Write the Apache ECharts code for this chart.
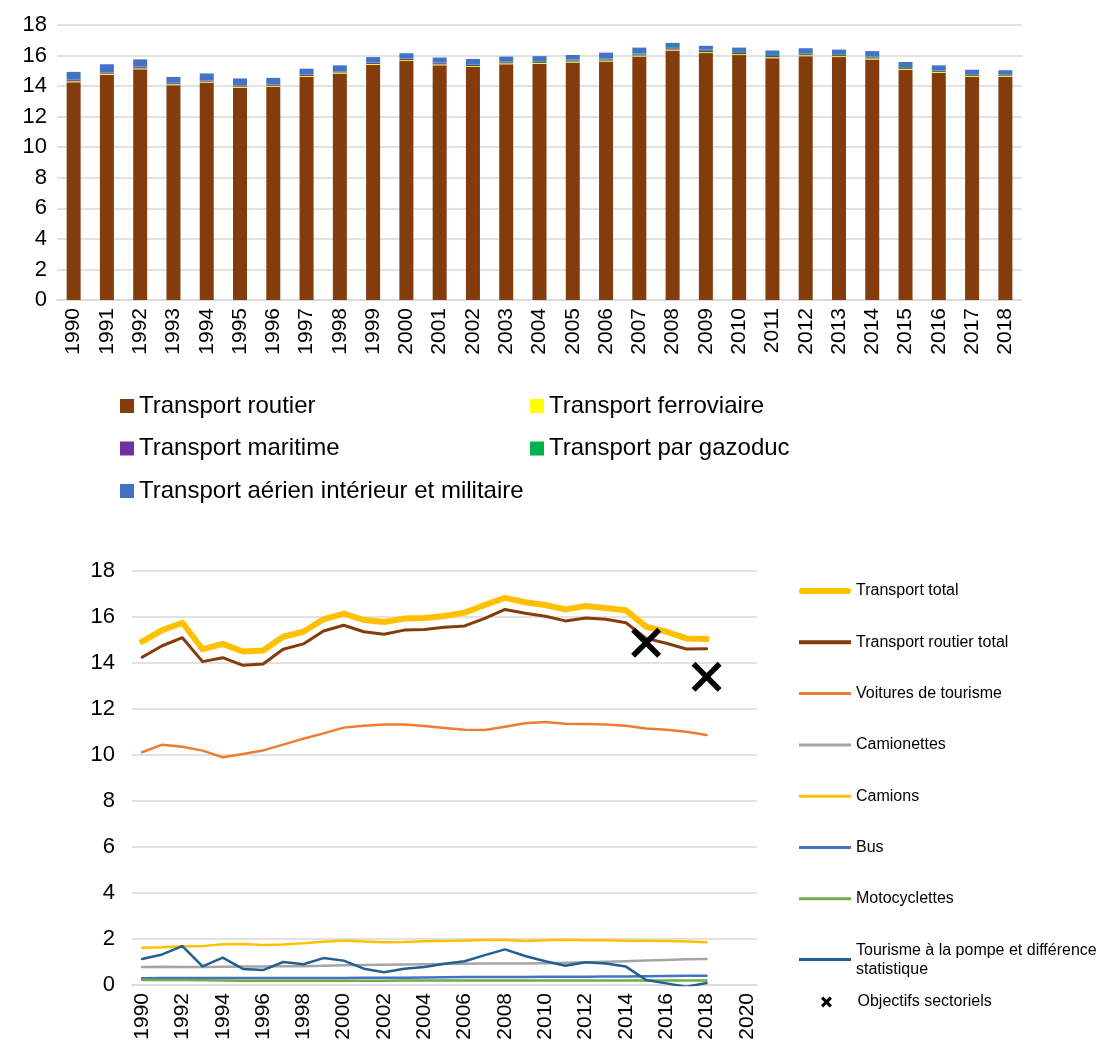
<!DOCTYPE html>
<html>
<head>
<meta charset="utf-8">
<script src="https://cdn.jsdelivr.net/npm/echarts@6/dist/echarts.min.js"></script>
<style>
html,body{margin:0;padding:0;background:#fff;}
#c{width:1099px;height:1052px;}
</style>
</head>
<body>
<div id="c"></div>
<script>
const years = ['1990','1991','1992','1993','1994','1995','1996','1997','1998','1999','2000','2001','2002','2003','2004','2005','2006','2007','2008','2009','2010','2011','2012','2013','2014','2015','2016','2017','2018'];
const yearsLine = ['1990','1991','1992','1993','1994','1995','1996','1997','1998','1999','2000','2001','2002','2003','2004','2005','2006','2007','2008','2009','2010','2011','2012','2013','2014','2015','2016','2017','2018','2019','2020'];
const yTicks = [0,2,4,6,8,10,12,14,16,18];

// Top chart (stacked bars)
const routier = [14.25,14.75,15.1,14.06,14.23,13.9,13.96,14.6,14.83,15.39,15.64,15.36,15.25,15.43,15.46,15.55,15.61,15.94,16.33,16.16,16.03,15.83,15.96,15.9,15.75,15.07,14.86,14.61,14.62];
const ferroviaire = [0.06,0.06,0.06,0.06,0.06,0.06,0.06,0.06,0.06,0.06,0.06,0.06,0.06,0.06,0.06,0.06,0.06,0.06,0.06,0.06,0.06,0.06,0.06,0.06,0.06,0.06,0.06,0.06,0.06];
const maritime = [0.08,0.08,0.08,0.07,0.07,0.06,0.06,0.07,0.07,0.07,0.08,0.08,0.08,0.07,0.07,0.07,0.07,0.07,0.08,0.08,0.08,0.08,0.07,0.07,0.07,0.06,0.06,0.06,0.06];
const gazoduc = [0.03,0.03,0.03,0.03,0.03,0.03,0.03,0.03,0.03,0.04,0.04,0.04,0.05,0.05,0.05,0.06,0.07,0.07,0.08,0.08,0.07,0.07,0.06,0.06,0.06,0.06,0.05,0.05,0.05];
const aerien = [0.51,0.51,0.48,0.38,0.44,0.45,0.43,0.38,0.37,0.34,0.33,0.33,0.34,0.32,0.32,0.30,0.38,0.38,0.28,0.26,0.28,0.29,0.33,0.30,0.35,0.33,0.33,0.29,0.25];

// Bottom chart (lines)
const transportTotal = [14.93,15.43,15.75,14.6,14.83,14.5,14.54,15.14,15.36,15.9,16.15,15.87,15.78,15.93,15.96,16.04,16.19,16.52,16.83,16.64,16.52,16.33,16.48,16.39,16.29,15.58,15.36,15.07,15.04];
const routierTotal = [14.25,14.75,15.1,14.06,14.23,13.9,13.96,14.6,14.83,15.39,15.64,15.36,15.25,15.43,15.46,15.55,15.61,15.94,16.33,16.16,16.03,15.83,15.96,15.9,15.75,15.07,14.86,14.61,14.62];
const voitures = [10.12,10.45,10.36,10.19,9.9,10.04,10.2,10.45,10.71,10.94,11.19,11.27,11.33,11.33,11.26,11.17,11.1,11.09,11.23,11.38,11.43,11.36,11.35,11.33,11.27,11.15,11.1,11.01,10.87];
const camionettes = [0.78,0.79,0.78,0.78,0.79,0.8,0.8,0.81,0.82,0.84,0.86,0.87,0.88,0.89,0.9,0.91,0.92,0.93,0.94,0.94,0.95,0.97,0.99,1.01,1.03,1.06,1.09,1.12,1.13];
const camions = [1.62,1.64,1.68,1.69,1.77,1.78,1.74,1.76,1.81,1.88,1.93,1.89,1.86,1.87,1.9,1.91,1.93,1.96,1.96,1.91,1.95,1.97,1.95,1.95,1.92,1.92,1.91,1.89,1.86];
const bus = [0.29,0.3,0.3,0.3,0.3,0.3,0.3,0.3,0.3,0.3,0.3,0.31,0.31,0.32,0.33,0.34,0.35,0.35,0.35,0.35,0.36,0.36,0.36,0.37,0.37,0.38,0.39,0.4,0.4];
const moto = [0.22,0.22,0.22,0.21,0.2,0.19,0.18,0.18,0.18,0.18,0.19,0.19,0.19,0.2,0.2,0.2,0.2,0.2,0.2,0.2,0.2,0.2,0.2,0.2,0.2,0.2,0.2,0.2,0.2];
const tourisme = [1.13,1.33,1.69,0.81,1.19,0.7,0.65,1.0,0.9,1.17,1.06,0.71,0.55,0.71,0.78,0.92,1.03,1.3,1.55,1.26,1.03,0.84,0.99,0.93,0.8,0.22,0.07,-0.07,0.09];
const objectifs = [['2015',14.88],['2018',13.4]];

const FONT = '"Liberation Sans", Arial, sans-serif';
const GRID_C = '#D9D9D9';
const X_PATH = 'path://M0,2.6 L2.6,0 L10,7.4 L17.4,0 L20,2.6 L12.6,10 L20,17.4 L17.4,20 L10,12.6 L2.6,20 L0,17.4 L7.4,10 Z';
const LINE_THICK = 'path://M3,0 L49,0 A3,3 0 0 1 49,6 L3,6 A3,3 0 0 1 3,0 Z';
const LINE_MED = 'path://M0,0 L52,0 L52,4 L0,4 Z';
const LINE_THIN = 'path://M0,0 L52,0 L52,3 L0,3 Z';
const X_ICON = 'path://M0,4 L4,0 L10,6 L16,0 L20,4 L14,10 L20,16 L16,20 L10,14 L4,20 L0,16 L6,10 Z';

const chart = echarts.init(document.getElementById('c'), null, {renderer:'canvas'});

function lineSeries(name, data, color, width) {
  return {
    name, type:'line', xAxisIndex:1, yAxisIndex:1, data,
    symbol:'none', showSymbol:false, symbolKeepAspect:true,
    lineStyle:{color, width, cap:'round', join:'round'},
    itemStyle:{color},
    z: 2
  };
}

const option = {
  animation:false,
  textStyle:{fontFamily:FONT},
  grid:[
    {left:57, right:77, top:25, bottom:752, containLabel:false},
    {left:132, right:342, top:571, bottom:67, containLabel:false}
  ],
  xAxis:[
    {type:'category', gridIndex:0, data:years,
     axisLine:{lineStyle:{color:GRID_C, width:1.5}}, axisTick:{show:false},
     axisLabel:{rotate:90, interval:0, fontSize:21, color:'#000', fontFamily:FONT, margin:8}},
    {type:'category', gridIndex:1, data:yearsLine, boundaryGap:true,
     axisLine:{lineStyle:{color:GRID_C, width:1.5}}, axisTick:{show:false},
     axisLabel:{rotate:90, interval:1, fontSize:21, color:'#000', fontFamily:FONT, margin:8}}
  ],
  yAxis:[
    {type:'value', gridIndex:0, min:yTicks[0], max:yTicks[yTicks.length-1], interval:2,
     axisLine:{show:false}, axisTick:{show:false},
     splitLine:{lineStyle:{color:GRID_C, width:1.5}},
     axisLabel:{fontSize:22, color:'#000', fontFamily:FONT, margin:10}},
    {type:'value', gridIndex:1, min:yTicks[0], max:yTicks[yTicks.length-1], interval:2,
     axisLine:{show:false}, axisTick:{show:false},
     splitLine:{lineStyle:{color:GRID_C, width:1.5}},
     axisLabel:{fontSize:22, color:'#000', fontFamily:FONT, margin:17}}
  ],
  legend:[
    {orient:'vertical', left:120, top:394, padding:0, itemWidth:14, itemHeight:14, itemGap:18.5, icon:'rect',
     data:['Transport routier','Transport maritime','Transport aérien intérieur et militaire'],
     textStyle:{fontSize:24, color:'#000', fontFamily:FONT, lineHeight:24}},
    {orient:'vertical', left:530, top:394, padding:0, itemWidth:14, itemHeight:14, itemGap:18.5, icon:'rect',
     data:['Transport ferroviaire','Transport par gazoduc'],
     textStyle:{fontSize:24, color:'#000', fontFamily:FONT, lineHeight:24}},
    {orient:'vertical', left:799, top:581.5, padding:0, itemWidth:52, itemHeight:14, itemGap:32.3,
     data:[
       {name:'Transport total', icon:LINE_THICK},
       {name:'Transport routier total', icon:LINE_MED},
       {name:'Voitures de tourisme', icon:LINE_THIN},
       {name:'Camionettes', icon:LINE_THIN},
       {name:'Camions', icon:LINE_THIN},
       {name:'Bus', icon:LINE_THIN},
       {name:'Motocyclettes', icon:LINE_THIN},
       {name:'Tourisme à la pompe et différence statistique', icon:LINE_THIN}
     ],
     formatter:function(n){ return n === 'Tourisme à la pompe et différence statistique' ? 'Tourisme à la pompe et différence\nstatistique' : n; },
     textStyle:{fontSize:16, color:'#000', fontFamily:FONT, lineHeight:19}},
    {orient:'vertical', left:821, top:992.5, padding:0, itemWidth:52, itemHeight:11,
     data:[{name:'Objectifs sectoriels', icon:X_ICON}],
     textStyle:{fontSize:16, color:'#000', fontFamily:FONT, lineHeight:19}}
  ],
  series:[
    {name:'Transport routier', type:'bar', stack:'t', xAxisIndex:0, yAxisIndex:0, data:routier, barWidth:14, itemStyle:{color:'#843C0C'}},
    {name:'Transport ferroviaire', type:'bar', stack:'t', xAxisIndex:0, yAxisIndex:0, data:ferroviaire, barWidth:14, itemStyle:{color:'#FFFF00'}},
    {name:'Transport maritime', type:'bar', stack:'t', xAxisIndex:0, yAxisIndex:0, data:maritime, barWidth:14, itemStyle:{color:'#7030A0'}},
    {name:'Transport par gazoduc', type:'bar', stack:'t', xAxisIndex:0, yAxisIndex:0, data:gazoduc, barWidth:14, itemStyle:{color:'#00B050'}},
    {name:'Transport aérien intérieur et militaire', type:'bar', stack:'t', xAxisIndex:0, yAxisIndex:0, data:aerien, barWidth:14, itemStyle:{color:'#4472C4'}},
    lineSeries('Transport total', transportTotal, '#FFC000', 6),
    lineSeries('Transport routier total', routierTotal, '#843C0C', 3),
    lineSeries('Voitures de tourisme', voitures, '#ED7D31', 2.5),
    lineSeries('Camionettes', camionettes, '#A5A5A5', 2.5),
    lineSeries('Camions', camions, '#FFC000', 2.5),
    lineSeries('Bus', bus, '#4472C4', 2.5),
    lineSeries('Motocyclettes', moto, '#70AD47', 2.5),
    lineSeries('Tourisme à la pompe et différence statistique', tourisme, '#255E91', 2.5),
    {name:'Objectifs sectoriels', type:'scatter', xAxisIndex:1, yAxisIndex:1, data:objectifs,
     symbol:X_PATH, symbolSize:30, symbolKeepAspect:true, itemStyle:{color:'#000', opacity:1}, z:5}
  ]
};
chart.setOption(option);
</script>
</body>
</html>
